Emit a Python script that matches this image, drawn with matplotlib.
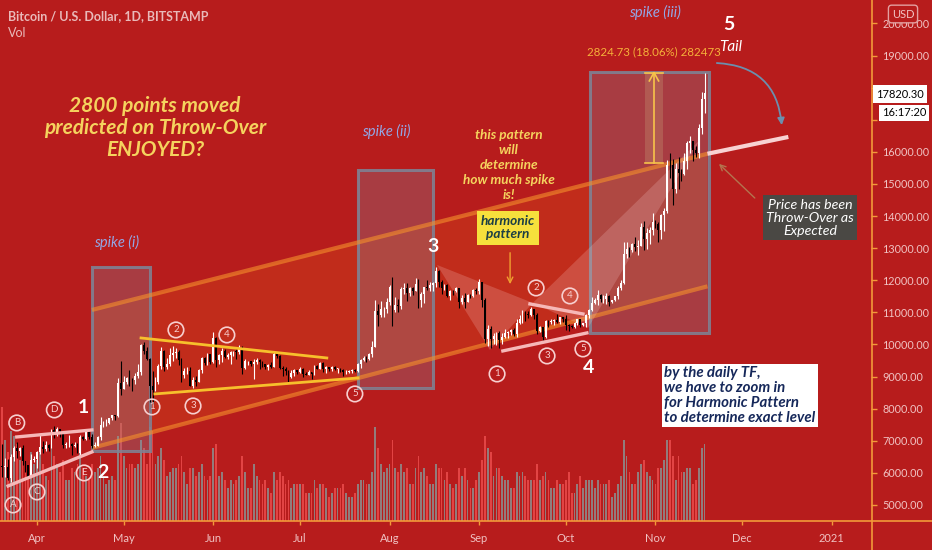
import numpy as np
import pandas as pd
import matplotlib
matplotlib.use("Agg")
import matplotlib.pyplot as plt
import matplotlib.dates as mdates
from matplotlib.patches import Rectangle, Polygon
from matplotlib.lines import Line2D

# ---------------- daily BTC/USD candles (Bitstamp), 2020-03-20 .. 2020-11-18 ----------------
start_date = "2020-03-20"
first_open = 6200

closes_mar = [6190, 6190, 5830, 6490, 6770, 6690, 6760, 6370, 6250, 5880, 6400, 6420]
closes_apr = [6640, 6800, 6740, 6860, 6780, 7330, 7200, 7370, 7290, 6860,
              6890, 6910, 6850, 6860, 6630, 7110, 7040, 7260, 7130, 6840,
              6850, 7130, 7500, 7540, 7550, 7700, 7790, 7760, 8790, 8620]
closes_may = [8830, 8970, 8900, 8890, 9030, 9150, 9990, 9810, 9540, 8720,
              8570, 8820, 9320, 9790, 9310, 9380, 9680, 9730, 9780, 9510,
              9060, 9170, 9180, 8720, 8900, 8840, 9200, 9570, 9430, 9700, 9450]
closes_jun = [10200, 9520, 9660, 9790, 9620, 9670, 9750, 9780, 9770, 9880,
              9270, 9470, 9480, 9390, 9440, 9520, 9460, 9380, 9300, 9360,
              9290, 9690, 9630, 9280, 9250, 9160, 9000, 9120, 9190, 9140]
closes_jul = [9230, 9090, 9060, 9130, 9080, 9340, 9250, 9430, 9230, 9290,
              9240, 9300, 9240, 9250, 9190, 9130, 9150, 9170, 9210, 9160,
              9390, 9520, 9580, 9540, 9700, 9930, 11030, 10930, 11100, 11110, 11330]
closes_aug = [11800, 11070, 11230, 11190, 11740, 11770, 11590, 11750, 11680, 11880,
              11400, 11570, 11780, 11770, 11860, 11900, 12290, 11960, 11760, 11860,
              11520, 11680, 11650, 11750, 11330, 11460, 11330, 11540, 11500, 11710, 11660]
closes_sep = [11930, 11390, 10170, 10470, 10160, 10260, 10370, 10130, 10230, 10350,
              10390, 10440, 10330, 10680, 10790, 10950, 10940, 10930, 11090, 10920,
              10420, 10530, 10240, 10740, 10690, 10730, 10770, 10700, 10840, 10780]
closes_oct = [10620, 10570, 10550, 10670, 10790, 10600, 10670, 10920, 11060, 11300,
              11380, 11540, 11430, 11430, 11510, 11320, 11370, 11500, 11750, 11910,
              12820, 12980, 12930, 13120, 13040, 13070, 13650, 13280, 13460, 13560, 13800]
closes_nov = [13760, 13550, 14030, 14150, 15590, 15580, 14830, 15480, 15330, 15310,
              15700, 16290, 16330, 16070, 15970, 16730, 17660, 17820]

highs_mar = [6900, 6450, 6420, 6600, 6850, 6960, 6790, 6880, 6370, 6260, 6600, 6520]
highs_apr = [6680, 7200, 7000, 6990, 6890, 7370, 7460, 7430, 7380, 7300,
             6950, 7180, 6920, 6970, 6930, 7190, 7150, 7300, 7250, 7200,
             6950, 7150, 7740, 7610, 7690, 7710, 7800, 7800, 8970, 9470]
highs_may = [9020, 9000, 9200, 8960, 9100, 9400, 10000, 10080, 9920, 9580,
             9160, 8980, 9400, 9920, 9840, 9580, 9880, 9950, 9900, 9830,
             9570, 9260, 9310, 9300, 8980, 9010, 9220, 9600, 9600, 9740, 9700]
highs_jun = [10380, 10230, 9690, 9880, 9850, 9730, 9800, 9800, 9870, 9980,
             9950, 9560, 9490, 9490, 9540, 9590, 9560, 9480, 9400, 9400,
             9440, 9790, 9690, 9670, 9320, 9300, 9200, 9190, 9230, 9200]
highs_jul = [9300, 9270, 9130, 9200, 9140, 9370, 9370, 9460, 9450, 9320,
             9300, 9340, 9340, 9280, 9270, 9220, 9190, 9190, 9230, 9220,
             9420, 9540, 9640, 9640, 9720, 10100, 11400, 11250, 11340, 11180, 11450]
highs_aug = [11860, 12090, 11480, 11420, 11790, 11900, 11910, 11800, 11800, 12070,
             12050, 11620, 11800, 12000, 11960, 11930, 12420, 12330, 12020, 11880,
             11870, 11690, 11700, 11800, 11760, 11530, 11590, 11580, 11570, 11720, 11770]
highs_sep = [12050, 11930, 11460, 10600, 10560, 10350, 10400, 10420, 10350, 10490,
             10430, 10470, 10500, 10780, 10920, 11070, 11040, 11050, 11180, 11060,
             10990, 10560, 10550, 10770, 10770, 10790, 10790, 10960, 10850, 10850]
highs_oct = [10920, 10650, 10600, 10690, 10800, 10800, 10680, 10940, 11100, 11480,
             11450, 11710, 11560, 11550, 11610, 11540, 11400, 11490, 11810, 12010,
             13200, 13180, 13020, 13160, 13340, 13240, 13780, 13840, 13630, 13670, 14080]
highs_nov = [13870, 13820, 14060, 14250, 15760, 15970, 15770, 15660, 15830, 15480,
             15970, 16340, 16480, 16330, 16170, 16880, 17860, 18470]

lows_mar = [5860, 5860, 5780, 5700, 6380, 6460, 6530, 6260, 6030, 5870, 5860, 6330]
lows_apr = [6160, 6580, 6620, 6690, 6680, 6770, 7100, 7150, 7120, 6770,
            6780, 6800, 6560, 6790, 6610, 6480, 7010, 7020, 7060, 6770,
            6800, 6840, 7030, 7420, 7460, 7520, 7650, 7660, 7740, 8430]
lows_may = [8620, 8770, 8700, 8560, 8780, 8940, 9050, 9710, 9500, 8200,
            8150, 8550, 8780, 9250, 9160, 9240, 9340, 9470, 9570, 9370,
            8830, 8950, 9080, 8710, 8640, 8700, 8820, 9110, 9350, 9370, 9400]
lows_jun = [9420, 9300, 9400, 9460, 9580, 9540, 9380, 9640, 9540, 9700,
            9090, 9230, 9370, 9330, 8910, 9400, 9250, 9290, 9230, 9190,
            9270, 9290, 9580, 9230, 9010, 9050, 8840, 8950, 9030, 9090]
lows_jul = [9100, 8990, 9040, 9050, 8910, 9060, 9220, 9230, 9150, 9120,
            9180, 9160, 9200, 9110, 9140, 9010, 9090, 9120, 9120, 9130,
            9150, 9280, 9480, 9440, 9520, 9620, 9930, 10590, 10870, 10840, 10980]
lows_aug = [11230, 10570, 11010, 11000, 11100, 11580, 11350, 11520, 11550, 11660,
            11130, 11170, 11290, 11690, 11680, 11680, 11800, 11800, 11560, 11690,
            11490, 11390, 11530, 11620, 11130, 11270, 11150, 11310, 11440, 11470, 11580]
lows_sep = [11570, 11170, 10060, 9960, 9880, 10000, 9970, 9880, 10000, 10200,
            10200, 10300, 10270, 10220, 10640, 10680, 10740, 10810, 10890, 10790,
            10310, 10380, 10150, 10200, 10530, 10650, 10620, 10680, 10650, 10690]
lows_oct = [10460, 10410, 10510, 10520, 10620, 10550, 10570, 10530, 10820, 11050,
            11270, 11220, 11320, 11280, 11250, 11210, 11300, 11350, 11410, 11690,
            11880, 12690, 12730, 12890, 12900, 12780, 13060, 12950, 12960, 13120, 13420]
lows_nov = [13620, 13200, 13300, 13530, 14100, 15200, 14350, 14720, 14830, 15100,
            15280, 15450, 15970, 15710, 15830, 15820, 16570, 17220]

# daily volume, thousand BTC
volume_mar = [28, 20, 17, 22, 21, 19, 15, 16, 14, 13, 17, 14]
volume_apr = [15, 17, 14, 11, 10, 18, 16, 14, 12, 15, 10, 10, 13, 12, 14, 18, 13, 11, 10, 14,
              12, 13, 16, 11, 9, 10, 11, 10, 21, 24]
volume_may = [16, 13, 14, 14, 13, 14, 20, 18, 14, 23, 22, 14, 16, 18, 15, 11, 12, 13, 13, 14,
              16, 12, 9, 13, 13, 11, 12, 14, 11, 10, 11]
volume_jun = [18, 19, 11, 12, 10, 8, 10, 9, 10, 11, 16, 12, 8, 8, 14, 11, 10, 9, 10, 8,
              7, 12, 10, 12, 11, 9, 10, 8, 9, 9]
volume_jul = [9, 9, 7, 7, 7, 10, 8, 9, 9, 8, 6, 7, 8, 8, 8, 9, 7, 6, 6, 7,
              9, 10, 10, 9, 9, 12, 23, 18, 14, 12, 13]
volume_aug = [14, 20, 13, 12, 14, 12, 13, 9, 9, 13, 16, 12, 13, 11, 9, 9, 14, 13, 13, 10,
              12, 9, 8, 9, 13, 11, 13, 10, 8, 8, 10]
volume_sep = [12, 15, 21, 18, 17, 11, 13, 13, 11, 10, 10, 8, 8, 12, 11, 12, 11, 10, 10, 10,
              14, 10, 11, 12, 10, 8, 8, 10, 9, 9]
volume_oct = [10, 12, 7, 7, 9, 11, 8, 10, 10, 10, 8, 10, 9, 9, 9, 10, 6, 7, 9, 11,
              20, 16, 12, 9, 9, 12, 14, 15, 12, 11, 10]
volume_nov = [9, 13, 13, 15, 20, 20, 16, 10, 16, 12, 12, 13, 13, 9, 10, 13, 18, 19]

closes = np.array(closes_mar + closes_apr + closes_may + closes_jun + closes_jul
                  + closes_aug + closes_sep + closes_oct + closes_nov, dtype=float)
highs = np.array(highs_mar + highs_apr + highs_may + highs_jun + highs_jul
                 + highs_aug + highs_sep + highs_oct + highs_nov, dtype=float)
lows = np.array(lows_mar + lows_apr + lows_may + lows_jun + lows_jul
                + lows_aug + lows_sep + lows_oct + lows_nov, dtype=float)
volumes = np.array(volume_mar + volume_apr + volume_may + volume_jun + volume_jul
                   + volume_aug + volume_sep + volume_oct + volume_nov, dtype=float)
opens = np.concatenate([[first_open], closes[:-1]])

# ---------------- drawings ----------------
month_ticks = ["2020-04-01", "2020-05-01", "2020-06-01", "2020-07-01", "2020-08-01",
               "2020-09-01", "2020-10-01", "2020-11-01", "2020-12-01", "2021-01-01"]
month_labels = ["Apr", "May", "Jun", "Jul", "Aug", "Sep", "Oct", "Nov", "Dec", "2021"]
price_ticks = list(range(5000, 21000, 1000))
covered_ticks = [17000, 18000]   # sit under the last-price and countdown badges

channel_dates = ["2020-04-20", "2020-11-19"]
channel_upper = [11075, 15940]
channel_lower = [6776, 11810]
throw_over_dates = ["2020-11-19", "2020-12-17"]
throw_over_prices = [15940, 16464]

spike_boxes = [  # (left, right, bottom, top, label, label date, label price)
    ("2020-04-20", "2020-05-10 02:00", 6682, 12414, "spike (i)", "2020-04-28 17:00", 13162),
    ("2020-07-21 02:00", "2020-08-16", 8645, 15436, "spike (ii)", "2020-07-30 19:00", 16620),
    ("2020-10-09 07:00", "2020-11-19 12:00", 10358, 18489, "spike (iii)", "2020-10-31 19:00", 20327),
]

wedge_upper_dates = ["2020-03-25", "2020-04-20"]
wedge_upper = [7118, 7336]
wedge_lower_dates = ["2020-03-22", "2020-04-20"]
wedge_lower = [5592, 6651]
wedge_letters = ["A", "B", "C", "D", "E"]
wedge_letter_dates = ["2020-03-23 17:00", "2020-03-25", "2020-04-01", "2020-04-07", "2020-04-17 07:00"]
wedge_letter_prices = [5000, 7555, 5405, 7960, 5997]

tri_upper_dates = ["2020-05-07", "2020-07-10 07:00"]
tri_upper = [10202, 9579]
tri_lower_dates = ["2020-05-11 19:00", "2020-07-21 02:00"]
tri_lower = [8458, 8956]
tri_point_dates = ["2020-05-10 19:00", "2020-05-19 02:00", "2020-05-25", "2020-06-05 17:00", "2020-07-20"]
tri_point_prices = [8053, 10452, 8084, 10296, 8458]

harm_upper_dates = ["2020-09-18 14:00", "2020-10-06 22:00"]
harm_upper = [11262, 10950]
harm_lower_dates = ["2020-09-09 05:00", "2020-10-08 07:00"]
harm_lower = [9798, 10358]
harm_point_dates = ["2020-09-07 05:00", "2020-09-20 17:00", "2020-09-24 12:00", "2020-10-02 10:00", "2020-10-06 22:00"]
harm_point_prices = [9081, 11760, 9642, 11511, 9860]
xabcd_dates = ["2020-08-17 10:00", "2020-09-04 17:00", "2020-09-19 14:00", "2020-10-08 17:00", "2020-11-16 10:00"]
xabcd_prices = [12477, 9829, 11293, 10514, 16371]

wave_labels = ["1", "2", "3", "4", "5"]
wave_dates = ["2020-04-17", "2020-04-23 19:00", "2020-08-16", "2020-10-09", "2020-11-26 10:00"]
wave_prices = [8022, 5997, 13037, 9268, 19953]

measure_date = "2020-10-31 12:00"
measure_band = ["2020-10-28 07:00", "2020-11-03 14:00"]
measure_low = 15645.0
measure_move = 2824.73
measure_pct = 18.06
last_price = 17820.30
bar_countdown = "16:17:20"

# ---------------- style ----------------
BG = "#b71c1c"
PINK_TXT = "#f0c2c2"
ORANGE = "#f39a3a"
CIRCLE = "#f7cfcf"
SANS = ["Lato", "DejaVu Sans"]

d = mdates.datestr2num
dates = pd.date_range(start_date, periods=len(closes), freq="D")
x = mdates.date2num(dates)

W, H = 932, 550
fig = plt.figure(figsize=(W / 100, H / 100), dpi=100, facecolor=BG)
rect = [0, 29 / H, 871 / W, 521 / H]
ax_vol = fig.add_axes(rect)
ax = fig.add_axes(rect)
ax_vol.set_facecolor(BG)
ax.patch.set_visible(False)

x0 = d("2020-04-01")
ax.set_xlim(x0 - 12.8, x0 + 288.6)
ax_vol.set_xlim(ax.get_xlim())
ax.set_ylim(4500, 20730)
ax_vol.set_ylim(0, 128)

for a in (ax, ax_vol):
    for s in a.spines.values():
        s.set_visible(False)
ax_vol.set_xticks([])
ax_vol.set_yticks([])

# volume
up = closes >= opens
vol_cols = np.where(up, "#927c7c", "#e24444")
ax_vol.bar(x, volumes, width=0.62, color=vol_cols, linewidth=0)

# rising channel
cu = [d(s) for s in channel_dates]
ax.add_patch(Polygon([(cu[0], channel_upper[0]), (cu[1], channel_upper[1]),
                      (cu[1], channel_lower[1]), (cu[0], channel_lower[0])],
                     closed=True, facecolor="#ff8a1a", alpha=0.15, edgecolor="none", zorder=1))
ax.plot(cu, channel_upper, color="#f5912c", lw=3.0, alpha=0.6, zorder=3, solid_capstyle="butt")
ax.plot(cu, channel_lower, color="#f5912c", lw=3.0, alpha=0.6, zorder=3, solid_capstyle="butt")
ax.plot([d(s) for s in throw_over_dates], throw_over_prices, color="#f8d2d2", lw=3,
        zorder=7, solid_capstyle="butt")

# spike boxes
for left, right, bottom, top, label, ld, lp in spike_boxes:
    ax.add_patch(Rectangle((d(left), bottom), d(right) - d(left), top - bottom,
                           facecolor="#8391a8", alpha=0.28, edgecolor="none", zorder=2))
    ax.add_patch(Rectangle((d(left), bottom), d(right) - d(left), top - bottom,
                           facecolor="none", edgecolor="#7d8597", lw=2.2, alpha=0.85, zorder=2))
    ax.text(d(ld), lp, label, color="#93a7e6", fontsize=10.5, style="italic",
            family=SANS, ha="center", va="center", zorder=9)

# harmonic XABCD shading
hx = [d(s) for s in xabcd_dates]
for tri in ([0, 1, 2], [2, 3, 4]):
    ax.add_patch(Polygon([(hx[i], xabcd_prices[i]) for i in tri], closed=True,
                         facecolor="#ffd9d9", alpha=0.2, edgecolor="none", zorder=3))

# candles
cand_cols = np.where(up, "#ffffff", "#000000")
ax.vlines(x, lows, highs, colors=cand_cols, lw=0.8, zorder=5)
body_lo = np.minimum(opens, closes)
body_h = np.maximum(np.abs(closes - opens), 15)
ax.bar(x, body_h, bottom=body_lo, width=0.62, color=cand_cols, linewidth=0, zorder=6)

# trend lines
ax.plot([d(s) for s in wedge_upper_dates], wedge_upper, color="#f6b8b8", lw=2.4, zorder=7)
ax.plot([d(s) for s in wedge_lower_dates], wedge_lower, color="#f6b8b8", lw=2.4, zorder=7)
ax.plot([d(s) for s in tri_upper_dates], tri_upper, color="#f7c02c", lw=2, zorder=7)
ax.plot([d(s) for s in tri_lower_dates], tri_lower, color="#f7c02c", lw=2, zorder=7)
ax.plot([d(s) for s in harm_upper_dates], harm_upper, color="#f6b8b8", lw=2.4, zorder=7)
ax.plot([d(s) for s in harm_lower_dates], harm_lower, color="#f6b8b8", lw=2.4, zorder=7)


def circled(dates_, prices_, labels_):
    xs = [d(s) for s in dates_]
    ax.scatter(xs, prices_, s=125, facecolors="none", edgecolors=CIRCLE, linewidths=1.2, zorder=8)
    for xi, yi, t in zip(xs, prices_, labels_):
        ax.text(xi, yi, t, color=CIRCLE, fontsize=7, ha="center", va="center",
                family=SANS, zorder=8)


circled(wedge_letter_dates, wedge_letter_prices, wedge_letters)
circled(tri_point_dates, tri_point_prices, ["1", "2", "3", "4", "5"])
circled(harm_point_dates, harm_point_prices, ["1", "2", "3", "4", "5"])

for t, ds, p in zip(wave_labels, wave_dates, wave_prices):
    ax.text(d(ds), p, t, color="white", fontsize=14, fontweight="bold", ha="center",
            va="center", family=SANS, zorder=9)
ax.text(d("2020-11-27 02:00"), 19268, "Tail", color="white", fontsize=11, style="italic",
        ha="center", va="center", family=SANS, zorder=9)

# measured move
mx = d(measure_date)
mb = [d(s) for s in measure_band]
ax.add_patch(Rectangle((mb[0], measure_low), mb[1] - mb[0], measure_move,
                       facecolor="#c9a27a", alpha=0.3, edgecolor="none", zorder=6))
ax.plot([mx, mx], [measure_low, measure_low + measure_move], color="#f7c34a", lw=1.2, zorder=8)
ax.plot(mb, [measure_low] * 2, color="#f7c34a", lw=1.2, zorder=8)
ax.plot(mb, [measure_low + measure_move] * 2, color="#f7c34a", lw=1.2, zorder=8)
ax.plot([mx - 1.6, mx, mx + 1.6], [measure_low + measure_move - 260, measure_low + measure_move,
                                   measure_low + measure_move - 260], color="#f7c34a", lw=1.2, zorder=8)
ax.text(mx, 19112, f"{measure_move:.2f} ({measure_pct:.2f}%) {int(round(measure_move * 100))}",
        color="#f5b23a", fontsize=8.3, ha="center", va="center", family=SANS, zorder=9)

# arrows
ax.annotate("", xy=(d("2020-12-14 19:00"), 16745), xytext=(d("2020-11-21 07:00"), 18770),
            arrowprops=dict(arrowstyle="-|>", color="#6b8fae", lw=1.3,
                            connectionstyle="arc3,rad=-0.45", mutation_scale=10), zorder=9)
ax.annotate("", xy=(d("2020-11-22 07:00"), 15685), xytext=(d("2020-12-06 02:00"), 14502),
            arrowprops=dict(arrowstyle="->", color="#b3744f", lw=1.0, mutation_scale=10), zorder=9)
ax.annotate("", xy=(d("2020-09-11 17:00"), 11791), xytext=(d("2020-09-11 17:00"), 12944),
            arrowprops=dict(arrowstyle="->", color="#f0a030", lw=1.0, mutation_scale=10), zorder=9)

# text notes
ax.text(d("2020-05-11 19:00"), 16745, "2800 points moved\npredicted on Throw-Over\nENJOYED?",
        color="#f5d35e", fontsize=15, fontweight="bold", style="italic", family=SANS,
        ha="center", va="center", linespacing=1.15, zorder=9)
ax.text(d("2020-09-11 07:00"), 15592, "this pattern\nwill\ndetermine\nhow much spike\nis!",
        color="#f5d35e", fontsize=9.8, fontweight="bold", style="italic", family=SANS,
        ha="center", va="center", linespacing=1.32, zorder=9)
ax.text(d("2020-09-11"), 13629, "harmonic\npattern", color="#1d3f44", fontsize=9.8,
        fontweight="bold", style="italic", family=SANS, ha="center", va="center",
        linespacing=1.1, zorder=9,
        bbox=dict(boxstyle="square,pad=0.3", facecolor="#f6e03c", edgecolor="none"))
ax.text(d("2020-12-24 12:00"), 13941, "Price has been\nThrow-Over as\nExpected", color="white",
        fontsize=10.2, style="italic", family=SANS, ha="center", va="center", linespacing=1.1,
        zorder=9, bbox=dict(boxstyle="square,pad=0.25", facecolor="#4a4844", edgecolor="none"))
ax.text(d("2020-11-04"), 8411, "by the daily TF,\nwe have to zoom in\nfor Harmonic Pattern\nto determine exact level",
        color="#16285a", fontsize=10.8, fontweight="bold", style="italic", family=SANS,
        ha="left", va="center", linespacing=1.08, zorder=9,
        bbox=dict(boxstyle="square,pad=0.15", facecolor="white", edgecolor="none"))

# axes ticks
ax.yaxis.tick_right()
ax.set_yticks(price_ticks)
ax.set_yticklabels(["" if v in covered_ticks else f"{v:.2f}" for v in price_ticks])
ax.set_xticks([d(s) for s in month_ticks])
ax.set_xticklabels(month_labels)
ax.tick_params(axis="y", colors=ORANGE, labelcolor=PINK_TXT, length=4, width=1,
               labelsize=7.8, pad=4)
ax.tick_params(axis="x", colors=ORANGE, labelcolor=PINK_TXT, length=3, width=1,
               labelsize=8, pad=6)
for lab in ax.get_xticklabels() + ax.get_yticklabels():
    lab.set_family(SANS)

# frame lines of the price and time scales
fig.add_artist(Line2D([0, 1], [29 / H, 29 / H], color=ORANGE, lw=1.2, transform=fig.transFigure))
fig.add_artist(Line2D([872 / W, 872 / W], [0, 1], color=ORANGE, lw=1.2, transform=fig.transFigure))

# header and price-scale badges
fig.text(8 / W, 1 - 16 / H, "Bitcoin / U.S. Dollar, 1D, BITSTAMP", color="#e9b9b9",
         fontsize=9, fontweight="bold", family=SANS, va="center", ha="left")
fig.text(8 / W, 1 - 33 / H, "Vol", color="#e9b9b9", fontsize=9, family=SANS, va="center", ha="left")
fig.text(903 / W, 1 - 14 / H, "USD", color="#f2c4c4", fontsize=8, family=SANS, va="center",
         ha="center", bbox=dict(boxstyle="round,pad=0.3", facecolor=BG, edgecolor="#e3a0a0", lw=1))
fig.text(900 / W, 1 - 94 / H, f"{last_price:.2f}", color="black", fontsize=8, family=SANS,
         va="center", ha="center",
         bbox=dict(boxstyle="square,pad=0.3", facecolor="white", edgecolor="none"))
fig.text(904 / W, 1 - 113 / H, bar_countdown, color="black", fontsize=8, family=SANS,
         va="center", ha="center",
         bbox=dict(boxstyle="square,pad=0.25", facecolor="white", edgecolor="none"))

fig.savefig("out.png", dpi=100, facecolor=BG)
